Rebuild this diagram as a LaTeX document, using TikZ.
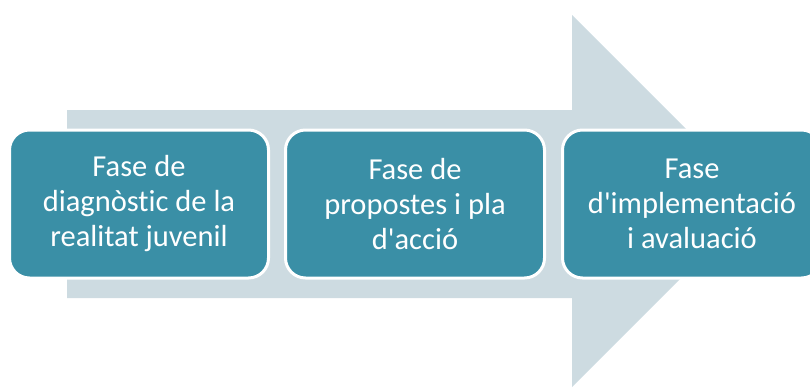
\documentclass[tikz,border=0pt]{standalone}
\usepackage{fontspec}
\setmainfont{Carlito}[Ligatures={NoCommon}]
\definecolor{phasefill}{RGB}{58,143,166}
\definecolor{arrowfill}{RGB}{205,219,225}
\tikzset{
    phase/.style={rounded corners=20pt, fill=phasefill, draw=white, line width=3pt,
        minimum width=259pt, minimum height=148pt, text=white, align=center,
        font=\fontsize{30.5}{35}\selectfont}
}
\begin{document}
\begin{tikzpicture}[x=1pt, y=-1pt]
        \clip (0, 0) rectangle (810, 388);

        % draw arrow
        \fill[arrowfill] (67, 110) -- (572, 110) -- (572, 15) -- (758, 201)
            -- (572, 387) -- (572, 298) -- (67, 298) -- cycle;

        \node[phase] at (139, 204)  (diag)  {Fase de\\diagnòstic de la\\realitat juvenil};
        \node[phase] at (415, 204)  (prop)  {Fase de\\propostes i pla\\d\textquotesingle acció};
        \node[phase] at (692, 204)  (impl)  {Fase\\d\textquotesingle implementació\\i avaluació};

    \end{tikzpicture}
\end{document}
